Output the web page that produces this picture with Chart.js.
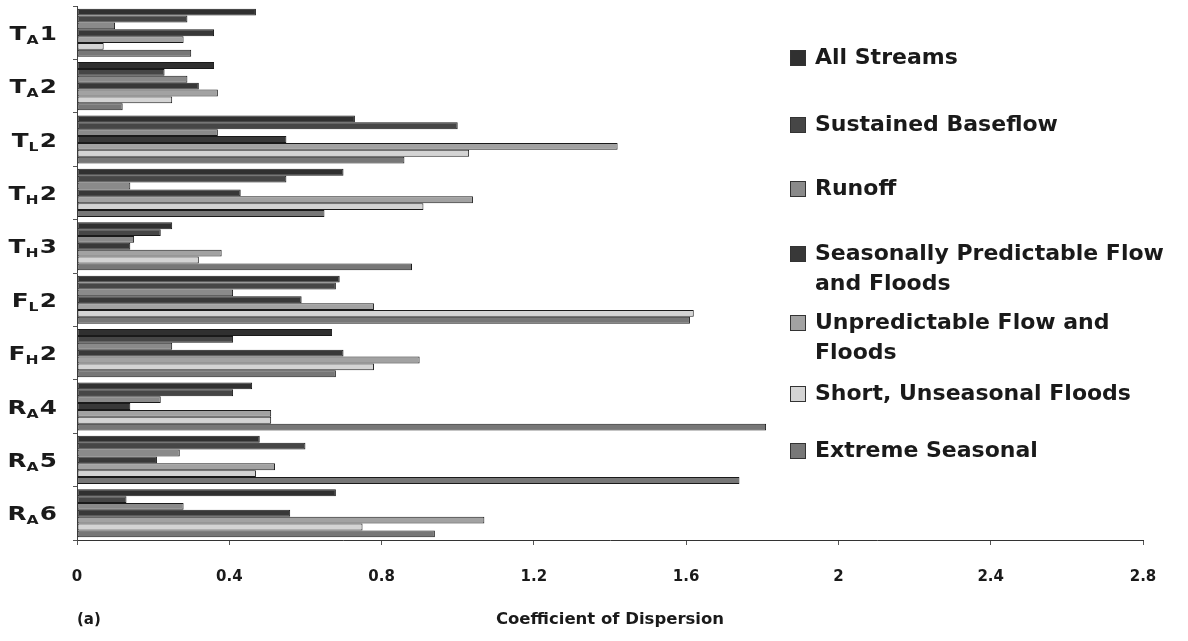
<!DOCTYPE html>
<html>
<head>
<meta charset="utf-8">
<script src="https://cdn.jsdelivr.net/npm/chart.js"></script>
<style>
  body { margin: 0; background: #fff; }
  #wrap { position: relative; width: 1188px; height: 641px; }
  #legend { position: absolute; left: 790px; top: 0; font-family: "DejaVu Sans", sans-serif; font-weight: bold; font-size: 22px; color: #1a1a1a; }
  .item { position: absolute; left: 0; width: 383px; display: flex; align-items: flex-start; line-height: 30px; }
  .box { width: 14px; height: 14px; margin-top: 8px; margin-right: 9px; border: 1px solid #333; flex: none; }
  #tag { position: absolute; left: 77px; top: 610px; font-family: "DejaVu Sans", sans-serif; font-weight: bold; font-size: 15px; color: #1a1a1a; }
</style>
</head>
<body>
<div id="wrap">
  <canvas id="chart" width="1188" height="641"></canvas>
  <div id="legend"></div>
  <div id="tag">(a)</div>
</div>
<script>
// category names: first letter, subscript letter, then number
const categories = ['TA1', 'TA2', 'TL2', 'TH2', 'TH3', 'FL2', 'FH2', 'RA4', 'RA5', 'RA6'];

const seriesNames = [
    'All Streams',
    'Sustained Baseflow',
    'Runoff',
    'Seasonally Predictable Flow and Floods',
    'Unpredictable Flow and Floods',
    'Short, Unseasonal Floods',
    'Extreme Seasonal'
];

const allStreams            = [0.47, 0.36, 0.73, 0.70, 0.25, 0.69, 0.67, 0.46, 0.48, 0.68];
const sustainedBaseflow     = [0.29, 0.23, 1.00, 0.55, 0.22, 0.68, 0.41, 0.41, 0.60, 0.13];
const runoff                = [0.10, 0.29, 0.37, 0.14, 0.15, 0.41, 0.25, 0.22, 0.27, 0.28];
const seasonallyPredictable = [0.36, 0.32, 0.55, 0.43, 0.14, 0.59, 0.70, 0.14, 0.21, 0.56];
const unpredictable         = [0.28, 0.37, 1.42, 1.04, 0.38, 0.78, 0.90, 0.51, 0.52, 1.07];
const shortUnseasonal       = [0.07, 0.25, 1.03, 0.91, 0.32, 1.62, 0.78, 0.51, 0.47, 0.75];
const extremeSeasonal       = [0.30, 0.12, 0.86, 0.65, 0.88, 1.61, 0.68, 1.81, 1.74, 0.94];

const xTicks = [0, 0.4, 0.8, 1.2, 1.6, 2, 2.4, 2.8];

const seriesValues = [allStreams, sustainedBaseflow, runoff, seasonallyPredictable,
                      unpredictable, shortUnseasonal, extremeSeasonal];
const seriesColors = ['#303030', '#464646', '#8a8a8a', '#383838', '#a2a2a2', '#d4d4d4', '#777777'];

// legend rows (top of each item, px)
const legendTops = [42, 109, 173, 238, 307, 378, 435];

const FONT = '"DejaVu Sans", sans-serif';

// y labels with a subscript letter, drawn through the category scale
const subLabels = {
    id: 'subLabels',
    afterDraw(chart) {
        const ctx = chart.ctx;
        const yScale = chart.scales.y;
        const right = 57;
        categories.forEach((name, i) => {
            const y = yScale.getPixelForValue(i);
            const main = name[0], sub = name[1], rest = name.slice(2);
            ctx.save();
            ctx.fillStyle = '#1a1a1a';
            ctx.textBaseline = 'alphabetic';
            ctx.font = 'bold 19px ' + FONT;
            const wMain = ctx.measureText(main).width;
            const wRest = ctx.measureText(rest).width;
            ctx.font = 'bold 12px ' + FONT;
            const wSub = ctx.measureText(sub).width;
            const sx = 1.3;
            const total = (wMain + wSub + wRest + 1) * sx;
            ctx.translate(right - total, y + 7);
            ctx.scale(sx, 1);
            ctx.font = 'bold 19px ' + FONT;
            ctx.fillText(main, 0, 0);
            ctx.font = 'bold 12px ' + FONT;
            ctx.fillText(sub, wMain, 4);
            ctx.font = 'bold 19px ' + FONT;
            ctx.fillText(rest, wMain + wSub + 1, 0);
            ctx.restore();
        });
    }
};

const ctx = document.getElementById('chart').getContext('2d');

new Chart(ctx, {
    type: 'bar',
    data: {
        labels: categories,
        datasets: seriesNames.map((name, k) => ({
            label: name,
            data: seriesValues[k],
            backgroundColor: seriesColors[k],
            borderColor: '#1a1a1a',
            borderWidth: 1,
            borderSkipped: false,
            categoryPercentage: 0.9,
            barPercentage: 1.0
        }))
    },
    options: {
        indexAxis: 'y',
        responsive: false,
        animation: false,
        layout: { padding: { left: 0, right: 45, top: 6, bottom: 0 } },
        plugins: {
            legend: { display: false },
            tooltip: { enabled: false }
        },
        scales: {
            x: {
                min: 0,
                max: 2.8,
                afterFit: (scale) => { scale.height = 101; },
                afterBuildTicks: (scale) => { scale.ticks = xTicks.map(v => ({ value: v })); },
                ticks: {
                    color: '#1a1a1a',
                    padding: 23,
                    font: { family: FONT, size: 15, weight: 'bold' },
                    callback: (v) => String(Number(Number(v).toFixed(1)))
                },
                grid: { drawOnChartArea: false, drawTicks: true, tickLength: 5, color: '#555' },
                border: { color: '#333', width: 1 },
                title: {
                    display: true,
                    text: 'Coefficient of Dispersion',
                    color: '#1a1a1a',
                    font: { family: FONT, size: 16.5, weight: 'bold' },
                    padding: { top: 0, bottom: 11 }
                }
            },
            y: {
                afterFit: (scale) => { scale.width = 77; },
                ticks: { display: false },
                grid: { drawOnChartArea: false, drawTicks: true, tickLength: 4, offset: true, color: '#555' },
                border: { color: '#444', width: 1 }
            }
        }
    },
    plugins: [subLabels]
});

// legend built from the series names and colours
const legend = document.getElementById('legend');
seriesNames.forEach((name, k) => {
    const item = document.createElement('div');
    item.className = 'item';
    item.style.top = legendTops[k] + 'px';
    const box = document.createElement('span');
    box.className = 'box';
    box.style.background = seriesColors[k];
    const txt = document.createElement('span');
    txt.textContent = name;
    item.appendChild(box);
    item.appendChild(txt);
    legend.appendChild(item);
});
</script>
</body>
</html>
